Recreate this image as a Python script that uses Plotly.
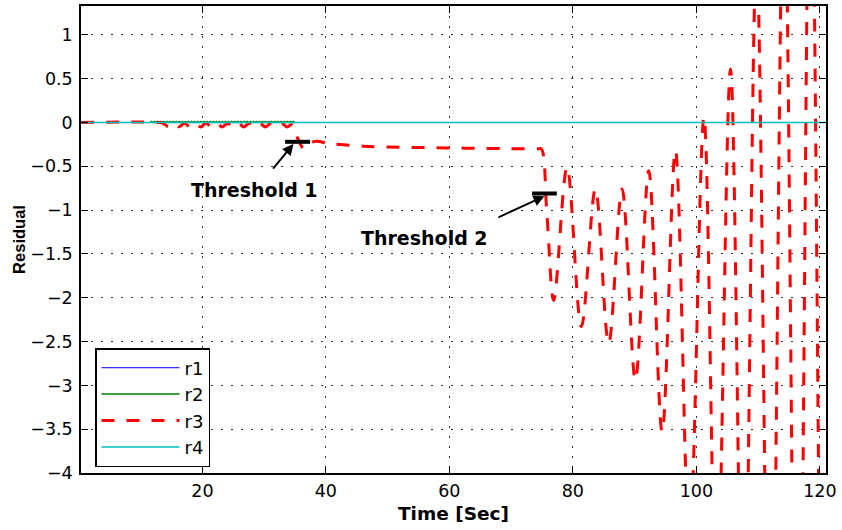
import plotly.graph_objects as go

# ---------------- data ----------------
t_r1 = [0.34, 121.0]
v_r1 = [0.0, 0.0]

t_r4 = [0.34, 121.0]
v_r4 = [0.0, 0.0]

t_r2 = [11.5, 11.75, 12.0, 12.25, 12.5, 12.75, 13.0, 13.25, 13.5, 13.75,
        14.0, 14.25, 14.5, 14.75, 15.0, 15.25, 15.5, 15.75, 16.0, 16.25,
        16.5, 16.75, 17.0, 17.25, 17.5, 17.75, 18.0, 18.25, 18.5, 18.75,
        19.0, 19.25, 19.5, 19.75, 20.0, 20.25, 20.5, 20.75, 21.0, 21.25,
        21.5, 21.75, 22.0, 22.25, 22.5, 22.75, 23.0, 23.25, 23.5, 23.75,
        24.0, 24.25, 24.5, 24.75, 25.0, 25.25, 25.5, 25.75, 26.0, 26.25,
        26.5, 26.75, 27.0, 27.25, 27.5, 27.75, 28.0, 28.25, 28.5, 28.75,
        29.0, 29.25, 29.5, 29.75, 30.0, 30.25, 30.5, 30.75, 31.0, 31.25,
        31.5, 31.75, 32.0, 32.25, 32.5, 32.75, 33.0, 33.25, 33.5, 33.75,
        34.0, 34.25, 34.5, 34.75, 35.0]
v_r2 = [0.0, 0.012, 0.0, 0.012, 0.0, 0.013, 0.0, 0.012, 0.0, 0.013,
        0.0, 0.012, 0.0, 0.013, 0.0, 0.012, 0.0, 0.013, 0.0, 0.012,
        0.0, 0.013, 0.0, 0.012, 0.0, 0.013, 0.0, 0.012, 0.0, 0.013,
        0.0, 0.012, 0.0, 0.013, 0.0, 0.012, 0.0, 0.013, 0.0, 0.012,
        0.0, 0.013, 0.0, 0.012, 0.0, 0.013, 0.0, 0.012, 0.0, 0.013,
        0.0, 0.012, 0.0, 0.013, 0.0, 0.012, 0.0, 0.013, 0.0, 0.012,
        0.0, 0.013, 0.0, 0.012, 0.0, 0.013, 0.0, 0.012, 0.0, 0.013,
        0.0, 0.012, 0.0, 0.013, 0.0, 0.012, 0.0, 0.013, 0.0, 0.012,
        0.0, 0.013, 0.0, 0.012, 0.0, 0.013, 0.0, 0.012, 0.0, 0.013,
        0.0, 0.012, 0.0, 0.013, 0.0]

t_r3 = [0.34, 13.1, 13.6, 14.5, 15.35, 16.2, 17.1, 18.0, 18.85, 19.7,
        20.6, 21.5, 22.35, 23.2, 24.1, 25.0, 25.85, 26.7, 27.6, 28.5,
        29.35, 30.2, 31.1, 32.0, 32.85, 33.7, 34.5, 35.5, 36.5, 38.2,
        40.5, 42.3, 46.0, 50.0, 55.0, 60.0, 65.0, 70.0, 74.4, 74.9,
        75.8, 76.9, 79.06, 81.38, 83.65, 85.8, 87.97, 90.13, 92.29, 94.46,
        96.61, 98.88, 101.23, 103.26, 105.53, 107.63, 109.74, 112.0, 114.2, 116.4,
        118.5, 120.6, 121.0]
v_r3 = [0.0, 0.0, -0.008, -0.045, -0.008, -0.048, -0.009, -0.048, -0.009, -0.05,
        -0.009, -0.05, -0.01, -0.05, -0.01, -0.05, -0.01, -0.05, -0.01, -0.05,
        -0.01, -0.05, -0.01, -0.05, -0.01, -0.05, -0.025, -0.19, -0.30, -0.215,
        -0.24, -0.25, -0.27, -0.28, -0.285, -0.29, -0.295, -0.298, -0.30, -0.30,
        -1.05, -2.03, -0.51, -2.33, -0.76, -2.52, -0.76, -2.94, -0.55, -3.53,
        -0.32, -4.8, 0.06, -5.6, 0.61, -6.5, 1.9, -7.5, 3.0, -8.5,
        3.8, -9.5, -7.0]

x_tickvals = [20, 40, 60, 80, 100, 120]
x_ticktext = ["20", "40", "60", "80", "100", "120"]
y_tickvals = [1, 0.5, 0, -0.5, -1, -1.5, -2, -2.5, -3, -3.5, -4]
y_ticktext = ["1", "0.5", "0", "\u22120.5", "\u22121", "\u22121.5", "\u22122",
              "\u22122.5", "\u22123", "\u22123.5", "\u22124"]

# thresholds: (t_start, t_end, level), label positions, arrow tail/head
thr_bars = [(33.4, 37.45, -0.22), (73.4, 77.4, -0.81)]
thr_labels = [("Threshold 1", 28.46, -0.773), ("Threshold 2", 55.9, -1.32)]
thr_arrows = [((31.25, -0.542), (34.75, -0.244)), ((67.7, -1.09), (75.4, -0.84))]

# ---------------- figure ----------------
fig = go.Figure()
fig.add_trace(go.Scatter(x=t_r1, y=v_r1, mode="lines", name="r1",
                         line=dict(color="#0000ff", width=1.0)))
fig.add_trace(go.Scatter(x=t_r2, y=v_r2, mode="lines", name="r2",
                         line=dict(color="#008000", width=1.5)))
fig.add_trace(go.Scatter(x=t_r3, y=v_r3, mode="lines", name="r3",
                         line=dict(color="#ff0000", width=3, dash="13px,12px",
                                   shape="spline", smoothing=1.0)))
fig.add_trace(go.Scatter(x=t_r4, y=v_r4, mode="lines", name="r4",
                         line=dict(color="#00bfbf", width=1.5)))

for (a, b, lev) in thr_bars:
    fig.add_shape(type="line", x0=a, x1=b, y0=lev, y1=lev, xref="x", yref="y",
                  line=dict(color="black", width=4))

for (txt, tx, ty) in thr_labels:
    fig.add_annotation(x=tx, y=ty, xref="x", yref="y", text=txt, showarrow=False,
                       font=dict(family="DejaVu Sans", size=19, color="black", weight="bold"))

for (tail, head) in thr_arrows:
    fig.add_annotation(x=head[0], y=head[1], ax=tail[0], ay=tail[1],
                       xref="x", yref="y", axref="x", ayref="y", text="",
                       showarrow=True, arrowhead=2, arrowsize=1.1, arrowwidth=2,
                       arrowcolor="black", standoff=0, startstandoff=0)

axis_common = dict(showline=True, linecolor="black", linewidth=1.5, mirror="ticks",
                   ticks="inside", ticklen=7, tickwidth=1.3, tickcolor="black",
                   showgrid=True, gridcolor="#333333", gridwidth=1, griddash="1.5px,8.5px",
                   zeroline=False,
                   tickfont=dict(family="DejaVu Sans", size=17.5, color="black"))

fig.update_xaxes(range=[0.34, 121.0], tickvals=x_tickvals, ticktext=x_ticktext,
                 ticklabelstandoff=1,
                 title=dict(text="Time [Sec]", standoff=7,
                            font=dict(family="DejaVu Sans", size=18.5, color="black", weight="bold")),
                 **axis_common)
fig.update_yaxes(range=[-4, 1.33], tickvals=y_tickvals, ticktext=y_ticktext,
                 ticklabelstandoff=3,
                 title=dict(text="Residual", standoff=0,
                            font=dict(family="Liberation Sans", size=16.5, color="black", weight="bold")),
                 **axis_common)

fig.update_layout(
    width=842, height=530,
    margin=dict(l=81, r=16, t=6, b=57, autoexpand=False),
    paper_bgcolor="white", plot_bgcolor="white",
    showlegend=True,
    legend=dict(x=0.0188, y=0.0128, xanchor="left", yanchor="bottom",
                bordercolor="black", borderwidth=1.5, bgcolor="white",
                font=dict(family="DejaVu Sans", size=18, color="black"),
                itemwidth=78, tracegroupgap=0),
)

fig.write_html("out.html")
